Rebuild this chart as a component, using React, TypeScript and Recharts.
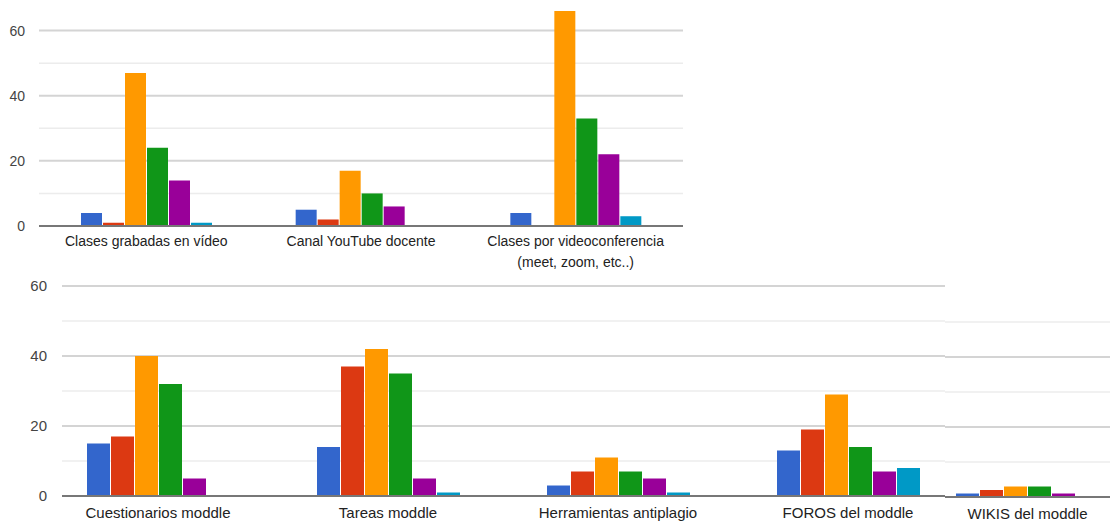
import { BarChart, Bar, XAxis, YAxis, CartesianGrid } from 'recharts';

// categories of both stitched charts (top: 3, bottom: 4, right crop: 1)
const categories = [
  'Clases grabadas en vídeo',
  'Canal YouTube docente',
  'Clases por videoconferencia\n(meet, zoom, etc..)',
  'Cuestionarios moddle',
  'Tareas moddle',
  'Herramientas antiplagio',
  'FOROS del moddle',
  'WIKIS del moddle',
];

const blue = [4, 5, 4, 15, 14, 3, 13, 1];
const red = [1, 2, 0, 17, 37, 7, 19, 2];
const orange = [47, 17, 66, 40, 42, 11, 29, 3];
const green = [24, 10, 33, 32, 35, 7, 14, 3];
const purple = [14, 6, 22, 5, 5, 5, 7, 1];
const teal = [1, 0, 3, 0, 1, 1, 8, 0];

const topTicks = [0, 10, 20, 30, 40, 50, 60, 70];
const bottomTicks = [0, 10, 20, 30, 40, 50, 60];
const wikiTicks = [0, 10, 20, 30, 40, 50];

const series = [
  { key: 's1', values: blue, color: '#3366cc' },
  { key: 's2', values: red, color: '#dc3912' },
  { key: 's3', values: orange, color: '#ff9900' },
  { key: 's4', values: green, color: '#109618' },
  { key: 's5', values: purple, color: '#990099' },
  { key: 's6', values: teal, color: '#0099c6' },
];

const rows = categories.map((name, i) => {
  const row: Record<string, string | number> = { name };
  series.forEach((s) => (row[s.key] = s.values[i]));
  return row;
});

const topData = rows.slice(0, 3);
const bottomData = rows.slice(3, 7);
const wikiData = rows.slice(7, 8);

const FONT = '"Liberation Sans", Arial, sans-serif';

const XTick = (props: any) => {
  const { x, y, payload, fontSize, lineH } = props;
  const lines = String(payload.value).split('\n');
  return (
    <text x={x} y={y} textAnchor="middle" fill="#222" fontSize={fontSize} fontFamily={FONT}>
      {lines.map((l, i) => (
        <tspan key={i} x={x} dy={i === 0 ? '0.71em' : lineH}>
          {l}
        </tspan>
      ))}
    </text>
  );
};

const gridLine = (p: any) => (
  <line
    key={p.key}
    x1={p.x1}
    x2={p.x2}
    y1={p.y1}
    y2={p.y2}
    stroke={p.index % 2 === 0 ? '#d4d4d4' : '#ececec'}
    strokeWidth={p.index % 2 === 0 ? 2 : 1.5}
  />
);

const label20 = (v: number) => (v % 20 === 0 && v <= 60 ? String(v) : '');

const bars = (size: number) =>
  series.map((s) => (
    <Bar key={s.key} dataKey={s.key} fill={s.color} barSize={size} isAnimationActive={false} />
  ));

const App = () => {
  return (
    <div
      style={{
        position: 'absolute',
        left: 0,
        top: 0,
        width: 1110,
        height: 525,
        background: '#fff',
        overflow: 'hidden',
      }}
    >
      <div style={{ position: 'absolute', left: 0, top: -2 }}>
        <BarChart width={700} height={280} data={topData} margin={{ top: 0, right: 17, left: 0, bottom: 0 }} barGap={1}>
          <CartesianGrid vertical={false} horizontal={gridLine} />
          <XAxis
            dataKey="name"
            height={52}
            interval={0}
            tickLine={false}
            tickMargin={4}
            axisLine={{ stroke: '#777', strokeWidth: 2 }}
            tick={(p: any) => <XTick {...p} fontSize={14} lineH={21} />}
          />
          <YAxis
            width={39}
            domain={[0, 70]}
            ticks={topTicks}
            interval={0}
            tickFormatter={label20}
            axisLine={false}
            tickLine={false}
            tickMargin={8}
            tick={{ fill: '#444', fontSize: 14, fontFamily: FONT }}
          />
          {bars(21)}
        </BarChart>
      </div>

      <div style={{ position: 'absolute', left: 0, top: 276 }}>
        <BarChart width={960} height={250} data={bottomData} margin={{ top: 10, right: 15, left: 0, bottom: 0 }} barGap={1}>
          <CartesianGrid vertical={false} horizontal={gridLine} />
          <XAxis
            dataKey="name"
            height={30}
            interval={0}
            padding={{ left: -19, right: -18 }}
            tickLine={false}
            tickMargin={5}
            axisLine={{ stroke: '#777', strokeWidth: 2 }}
            tick={(p: any) => <XTick {...p} fontSize={15} lineH={22} />}
          />
          <YAxis
            width={62}
            domain={[0, 60]}
            ticks={bottomTicks}
            interval={0}
            tickFormatter={label20}
            axisLine={false}
            tickLine={false}
            tickMargin={9}
            tick={{ fill: '#444', fontSize: 15, fontFamily: FONT }}
          />
          {bars(23)}
        </BarChart>
      </div>

      <div style={{ position: 'absolute', left: 945, top: 312 }}>
        <BarChart width={165} height={215} data={wikiData} margin={{ top: 10, right: 0, left: 0, bottom: 0 }} barGap={1}>
          <CartesianGrid vertical={false} horizontal={gridLine} />
          <XAxis
            dataKey="name"
            height={30}
            interval={0}
            tickLine={false}
            tickMargin={5}
            axisLine={{ stroke: '#777', strokeWidth: 2 }}
            tick={(p: any) => <XTick {...p} fontSize={15} lineH={22} />}
          />
          <YAxis hide domain={[0, 50]} ticks={wikiTicks} interval={0} />
          {bars(23)}
        </BarChart>
      </div>
    </div>
  );
};

export default App;
